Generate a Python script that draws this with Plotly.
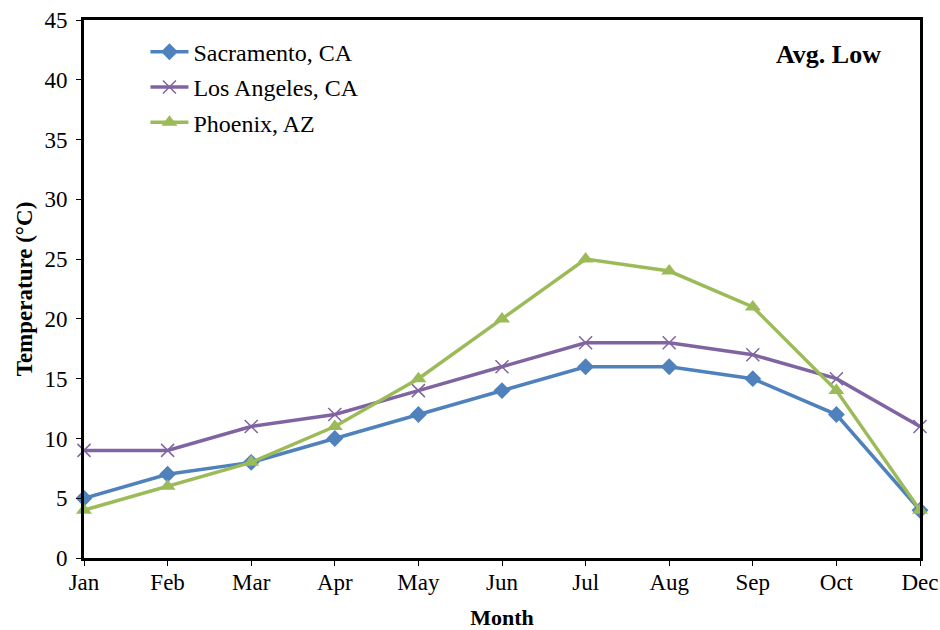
import plotly.graph_objects as go

months = ["Jan", "Feb", "Mar", "Apr", "May", "Jun", "Jul", "Aug", "Sep", "Oct", "Dec"]
sacramento = [5, 7, 8, 10, 12, 14, 16, 16, 15, 12, 4]
los_angeles = [9, 9, 11, 12, 14, 16, 18, 18, 17, 15, 11]
phoenix = [4, 6, 8, 11, 15, 20, 25, 24, 21, 14, 4]
y_ticks = [0, 5, 10, 15, 20, 25, 30, 35, 40, 45]

xpos = list(range(len(months)))
FONT = "Liberation Serif, Times New Roman, serif"

fig = go.Figure()
fig.add_trace(go.Scatter(
    x=xpos, y=sacramento, name="Sacramento, CA", mode="lines+markers",
    legendgroup="a",
    line=dict(color="#4F81BD", width=3.5),
    marker=dict(symbol="diamond", size=13, color="#4F81BD"),
    cliponaxis=False))
fig.add_trace(go.Scatter(
    x=xpos, y=los_angeles, name="Los Angeles, CA", mode="lines+markers",
    legendgroup="b",
    line=dict(color="#8064A2", width=3.5),
    marker=dict(symbol="x-thin", size=13, line=dict(color="#8064A2", width=1.5)),
    cliponaxis=False))
fig.add_trace(go.Scatter(
    x=xpos, y=phoenix, name="Phoenix, AZ", mode="lines+markers",
    legendgroup="c",
    line=dict(color="#9BBB59", width=3.5),
    marker=dict(symbol="triangle-up", size=14, color="#9BBB59"),
    cliponaxis=False))

fig.update_layout(
    width=940, height=630,
    margin=dict(l=84, r=20, t=20, b=72),
    paper_bgcolor="white", plot_bgcolor="white",
    font=dict(family=FONT, size=23, color="black"),
    showlegend=True,
    legend=dict(x=0.0735, y=0.982, xanchor="left", yanchor="top",
                bgcolor="rgba(0,0,0,0)", font=dict(size=24),
                itemwidth=38, tracegroupgap=1),
    xaxis=dict(
        range=[0, 10], tickmode="array", tickvals=xpos, ticktext=months,
        showgrid=False, zeroline=False, showline=True, linecolor="black",
        linewidth=3, mirror=True, ticks="outside", ticklen=5, tickwidth=1,
        tickcolor="black", tickfont=dict(size=23), automargin=False,
        ticklabelstandoff=-4,
        title=dict(text="<b>Month</b>", font=dict(size=22), standoff=17)),
    yaxis=dict(
        range=[0, 45], tickmode="array", tickvals=y_ticks,
        showgrid=False, zeroline=False, showline=True, linecolor="black",
        linewidth=3, mirror=True, ticks="outside", ticklen=5, tickwidth=1,
        tickcolor="black", tickfont=dict(size=23), automargin=False,
        ticklabelstandoff=4,
        title=dict(text="<b>Temperature (°C)</b>", font=dict(size=23), standoff=6)),
    annotations=[dict(text="<b>Avg. Low</b>", x=0.956, y=0.935, xref="paper", yref="paper",
                      xanchor="right", yanchor="middle", showarrow=False,
                      font=dict(size=26, family=FONT))],
)

fig.write_html("out.html", config={"displayModeBar": False},
               post_script="document.body.style.margin='0';document.body.style.overflow='hidden';")
